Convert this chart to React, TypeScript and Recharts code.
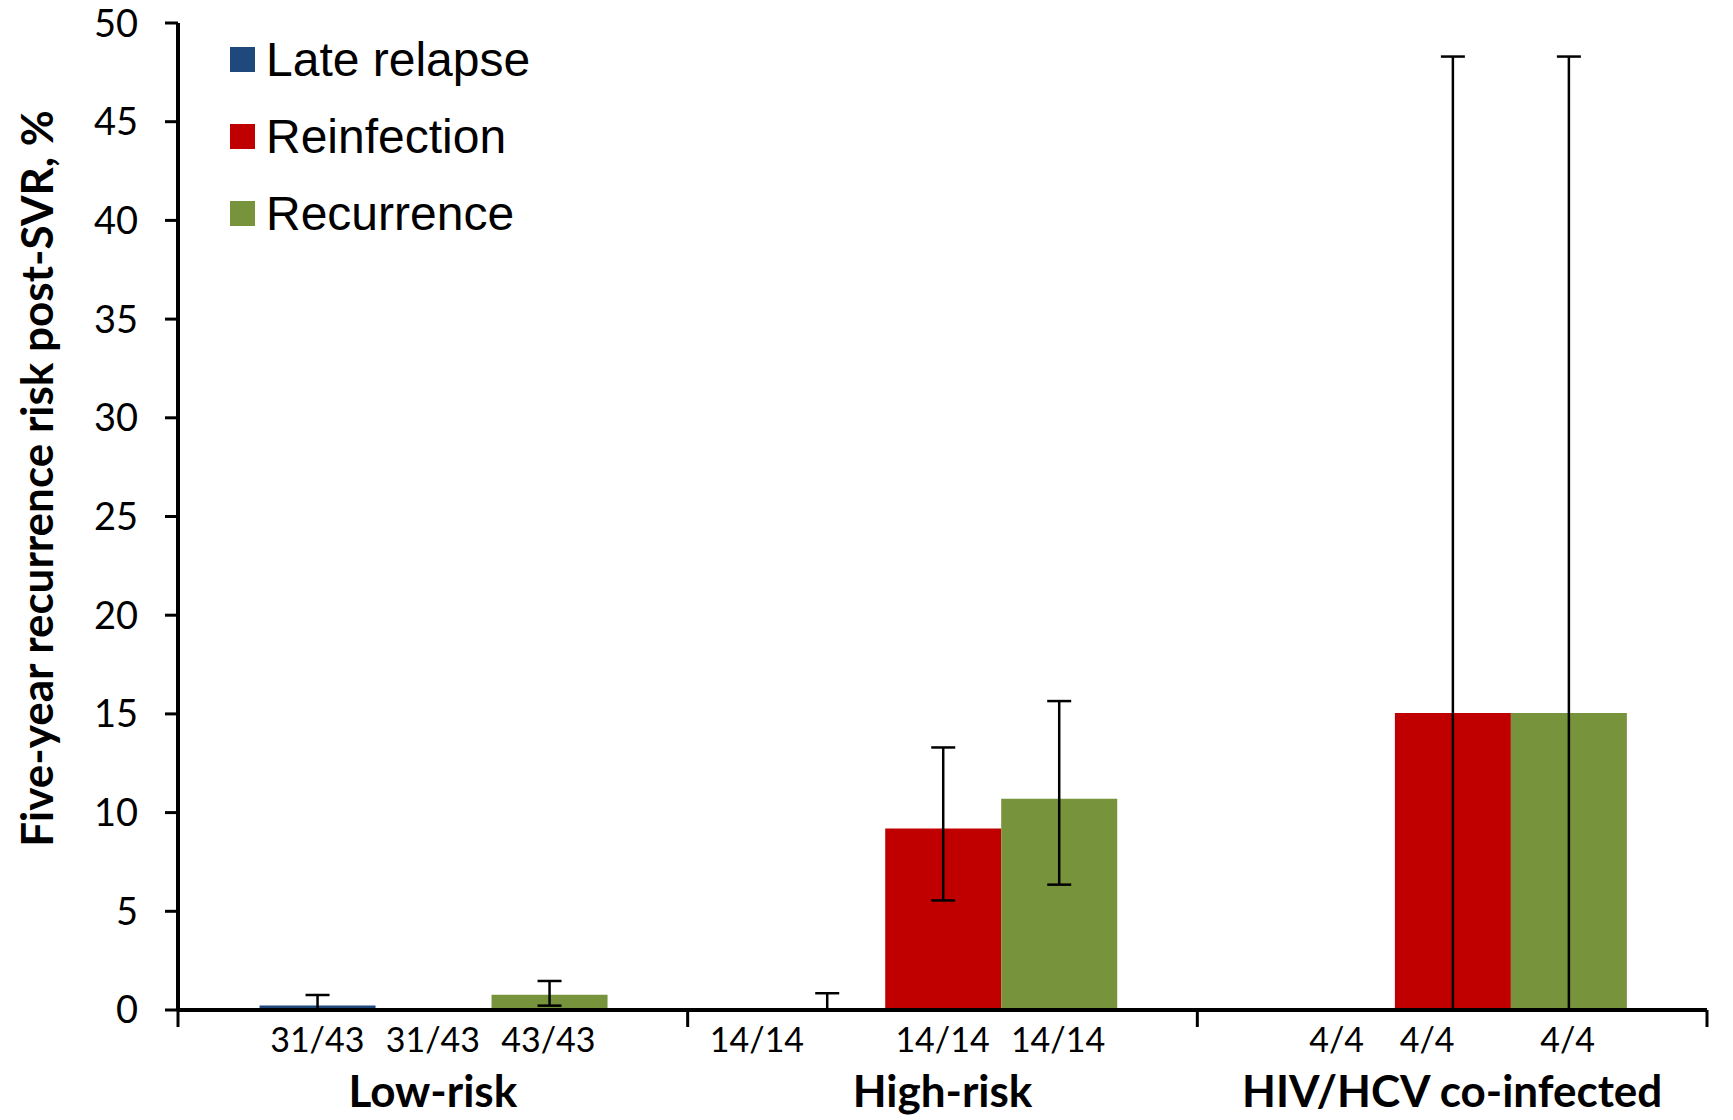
import React from 'react';
import { BarChart, Bar, XAxis, YAxis, ErrorBar, Legend } from 'recharts';

const categories = ['Low-risk', 'High-risk', 'HIV/HCV co-infected'];
const seriesNames = ['Late relapse', 'Reinfection', 'Recurrence'];

const lateRelapse = [0.23, 0.01, 0];
const lateRelapseLow = [0.0, 0, 0];
const lateRelapseHigh = [0.76, 0.85, 0];
const lateRelapseN = ['31/43', '14/14', '4/4'];

const reinfection = [0, 9.2, 15.05];
const reinfectionLow = [0, 5.55, 0];
const reinfectionHigh = [0, 13.3, 48.3];
const reinfectionN = ['31/43', '14/14', '4/4'];

const recurrence = [0.77, 10.7, 15.05];
const recurrenceLow = [0.22, 6.35, 0];
const recurrenceHigh = [1.47, 15.65, 48.3];
const recurrenceN = ['43/43', '14/14', '4/4'];

const yTicks = [0, 5, 10, 15, 20, 25, 30, 35, 40, 45, 50];

const BLUE = '#1F497D';
const RED = '#C00000';
const GREEN = '#77933C';

const W = 1733;
const H = 1120;
const M = { top: 23, right: 26, left: 0, bottom: 0 };
const Y_W = 178;
const PLOT_W = W - M.left - M.right - Y_W;
const CAT_GAP = 0.16;

// small shifts of the count labels, as placed in the original
const labelNudge = [
  [0, 0, 0],
  [-70, 0, 0],
  [0, -25, 0],
];

const err = (v: number, lo: number, hi: number) =>
  hi === 0 && v === 0 ? null : [v - lo, hi - v];

const data = categories.map((name, i) => ({
  name,
  lateRelapse: lateRelapse[i],
  reinfection: reinfection[i],
  recurrence: recurrence[i],
  lateRelapseErr: err(lateRelapse[i], lateRelapseLow[i], lateRelapseHigh[i]),
  reinfectionErr: err(reinfection[i], reinfectionLow[i], reinfectionHigh[i]),
  recurrenceErr: err(recurrence[i], recurrenceLow[i], recurrenceHigh[i]),
}));

const CategoryTick = ({ x, y, payload }: any) => {
  const i = payload.index;
  const band = PLOT_W / categories.length;
  const barW = (band * (1 - 2 * CAT_GAP)) / 3;
  const subs = [lateRelapseN[i], reinfectionN[i], recurrenceN[i]];
  return (
    <g>
      <line x1={x - band / 2} x2={x - band / 2} y1={y} y2={y + 17} stroke="#000" strokeWidth={3} />
      {i === categories.length - 1 && (
        <line x1={x + band / 2} x2={x + band / 2} y1={y} y2={y + 17} stroke="#000" strokeWidth={3} />
      )}
      {subs.map((s, k) => (
        <text
          key={k}
          x={x + (k - 1) * barW + labelNudge[i][k]}
          y={y + 42}
          textAnchor="middle"
          fontFamily="Lato"
          fontSize={34}
          fill="#000"
        >
          {s}
        </text>
      ))}
      <text x={x} y={y + 97} textAnchor="middle" fontFamily="Lato" fontWeight="bold" fontSize={44} fill="#000">
        {payload.value}
      </text>
    </g>
  );
};

const LegendBox = ({ payload }: any) => {
  const items = seriesNames
    .map((n) => (payload || []).find((p: any) => p.value === n))
    .filter(Boolean);
  return (
    <div style={{ fontFamily: 'Liberation Sans, Arial, sans-serif', fontSize: 48, color: '#000' }}>
      {items.map((p: any) => (
        <div key={p.value} style={{ display: 'flex', alignItems: 'center', height: 77 }}>
          <span style={{ width: 25, height: 25, background: p.color, marginRight: 11, display: 'inline-block' }} />
          <span>{p.value}</span>
        </div>
      ))}
    </div>
  );
};

const YLabel = ({ viewBox }: any) => {
  const cx = 36;
  const cy = viewBox.y + viewBox.height / 2 - 38;
  return (
    <text
      x={cx}
      y={cy}
      transform={`rotate(-90, ${cx}, ${cy})`}
      textAnchor="middle"
      dominantBaseline="central"
      fontFamily="Lato"
      fontWeight="bold"
      fontSize={44}
      fill="#000"
    >
      Five-year recurrence risk post-SVR, %
    </text>
  );
};

export default function App() {
  return (
    <div style={{ position: 'absolute', left: 0, top: 0, background: '#fff' }}>
      <BarChart width={W} height={H} data={data} margin={M} barGap={0} barCategoryGap={`${CAT_GAP * 100}%`}>
        <XAxis
          dataKey="name"
          height={110}
          tickLine={false}
          tickSize={0}
          tickMargin={0}
          axisLine={{ stroke: '#000', strokeWidth: 4 }}
          tick={<CategoryTick />}
          interval={0}
        />
        <YAxis
          width={Y_W}
          domain={[0, 50]}
          ticks={yTicks}
          interval={0}
          tickSize={13}
          tickMargin={27}
          tickLine={{ stroke: '#000', strokeWidth: 3 }}
          axisLine={{ stroke: '#000', strokeWidth: 4 }}
          tick={{ fill: '#000', fontSize: 38, fontFamily: 'Lato' }}
          label={<YLabel />}
        />
        <Legend
          layout="vertical"
          verticalAlign="middle"
          align="center"
          content={<LegendBox />}
          wrapperStyle={{ position: 'absolute', left: 230, top: 21, width: 450 }}
        />
        <Bar dataKey="lateRelapse" name="Late relapse" fill={BLUE} isAnimationActive={false}>
          <ErrorBar dataKey="lateRelapseErr" width={12} strokeWidth={2.5} stroke="#000" direction="y" />
        </Bar>
        <Bar dataKey="reinfection" name="Reinfection" fill={RED} isAnimationActive={false}>
          <ErrorBar dataKey="reinfectionErr" width={12} strokeWidth={2.5} stroke="#000" direction="y" />
        </Bar>
        <Bar dataKey="recurrence" name="Recurrence" fill={GREEN} isAnimationActive={false}>
          <ErrorBar dataKey="recurrenceErr" width={12} strokeWidth={2.5} stroke="#000" direction="y" />
        </Bar>
      </BarChart>
    </div>
  );
}
